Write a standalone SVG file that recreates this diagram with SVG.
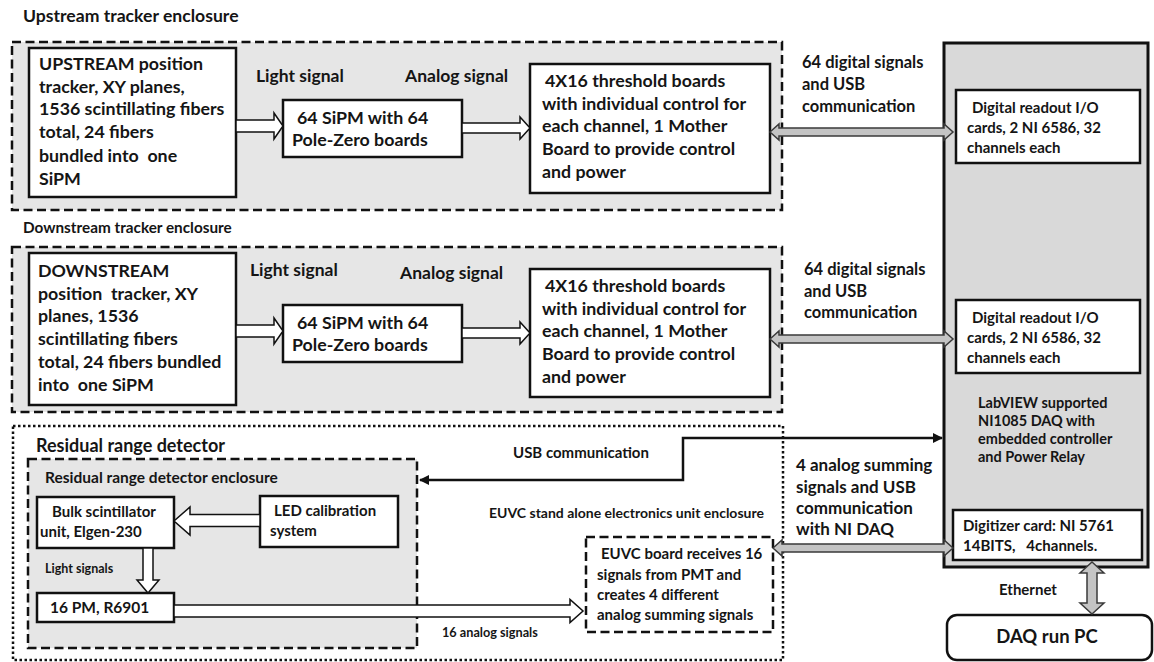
<svg xmlns="http://www.w3.org/2000/svg" width="1154" height="662" viewBox="0 0 1154 662">
  <style>
    text { font-family: Lato, "Liberation Sans", sans-serif; font-weight: bold; fill: #151515; white-space: pre; }
    .t18 { font-size: 17.8px; }
    .t17 { font-size: 17px; }
    .t16 { font-size: 16.5px; }
    .t15 { font-size: 15px; }
    .t14 { font-size: 14.5px; }
    .t13 { font-size: 14px; }
    .t12 { font-size: 12.7px; }
    .t11 { font-size: 12.5px; }
    .box { fill: #ffffff; stroke: #111; stroke-width: 2.5; }
    .encl { fill: #e6e6e6; stroke: #111; stroke-width: 2.5; stroke-dasharray: 9 4.5; }
    .dashw { fill: #ffffff; stroke: #111; stroke-width: 2.5; stroke-dasharray: 9 4.5; }
    .dotted { fill: none; stroke: #111; stroke-width: 2.5; stroke-dasharray: 2.5 2.5; }
    .daq { fill: #d9d9d9; stroke: #111; stroke-width: 3; }
    .hollow { fill: #ffffff; stroke: #111; stroke-width: 1.5; stroke-linejoin: miter; }
    .bus { fill: #c4c4c4; stroke: #3a3a3a; stroke-width: 1.5; }
    .wire { fill: none; stroke: #111; stroke-width: 2.5; }
  </style>
  <defs>
    <marker id="tip" viewBox="0 0 10 10" refX="9" refY="5" markerWidth="4" markerHeight="4" orient="auto-start-reverse" markerUnits="strokeWidth">
      <path d="M0,0 L10,5 L0,10 Z" fill="#111"/>
    </marker>
  </defs>

  <rect width="1154" height="662" fill="#ffffff"/>

  <!-- enclosure frames -->
  <g id="upstream-enclosure">
    <rect class="encl" x="12" y="42" width="770" height="168"/>
    <text x="23" y="22" style="font-size:17.6px">Upstream tracker enclosure</text>
  </g>
  <g id="downstream-enclosure">
    <rect class="encl" x="12" y="247" width="770" height="165"/>
    <text x="23" y="233" style="font-size:15.3px">Downstream tracker enclosure</text>
  </g>
  <g id="residual-range-detector">
    <rect class="dotted" x="13" y="426" width="770" height="234"/>
    <text x="36" y="452" style="font-size:18px">Residual range detector</text>
  </g>
  <g id="residual-enclosure">
    <rect class="encl" x="28" y="459" width="389" height="189"/>
    <text x="45" y="483" style="font-size:15.5px">Residual range detector enclosure</text>
  </g>
  <g id="euvc-enclosure-label">
    <text class="t13" x="489" y="518">EUVC stand alone electronics unit enclosure</text>
  </g>

  <!-- upstream chain -->
  <g id="upstream-tracker">
    <rect class="box" x="29" y="48" width="207" height="149"/>
    <text class="t18" x="39" y="70">UPSTREAM position</text>
    <text class="t18" x="39" y="93">tracker, XY planes,</text>
    <text class="t18" x="39" y="115">1536 scintillating fibers</text>
    <text class="t18" x="39" y="138">total, 24 fibers</text>
    <text class="t18" x="39" y="162">bundled into  one</text>
    <text class="t18" x="39" y="185">SiPM</text>
  </g>
  <g id="upstream-sipm">
    <rect class="box" x="283" y="100" width="179" height="57"/>
    <text class="t18" x="297" y="124">64 SiPM with 64</text>
    <text class="t18" x="292" y="146">Pole-Zero boards</text>
  </g>
  <g id="upstream-threshold">
    <rect class="box" x="530" y="64" width="240" height="129"/>
    <text class="t18" x="545" y="87">4X16 threshold boards</text>
    <text class="t18" x="542" y="110">with individual control for</text>
    <text class="t18" x="542" y="132">each channel, 1 Mother</text>
    <text class="t18" x="542" y="155">Board to provide control</text>
    <text class="t18" x="542" y="178">and power</text>
  </g>

  <!-- downstream chain -->
  <g id="downstream-tracker">
    <rect class="box" x="29" y="253" width="207" height="152"/>
    <text class="t18" x="38" y="277">DOWNSTREAM</text>
    <text class="t18" x="38" y="300">position  tracker, XY</text>
    <text class="t18" x="38" y="322">planes, 1536</text>
    <text class="t18" x="38" y="345">scintillating fibers</text>
    <text class="t18" x="38" y="368">total, 24 fibers bundled</text>
    <text class="t18" x="38" y="391">into  one SiPM</text>
  </g>
  <g id="downstream-sipm">
    <rect class="box" x="283" y="305" width="179" height="57"/>
    <text class="t18" x="297" y="329">64 SiPM with 64</text>
    <text class="t18" x="292" y="351">Pole-Zero boards</text>
  </g>
  <g id="downstream-threshold">
    <rect class="box" x="530" y="269" width="240" height="128"/>
    <text class="t18" x="545" y="292">4X16 threshold boards</text>
    <text class="t18" x="542" y="315">with individual control for</text>
    <text class="t18" x="542" y="337">each channel, 1 Mother</text>
    <text class="t18" x="542" y="360">Board to provide control</text>
    <text class="t18" x="542" y="383">and power</text>
  </g>

  <!-- DAQ crate -->
  <g id="daq-crate">
    <rect class="daq" x="944" y="43" width="204" height="524"/>
    <text class="t14" x="978" y="408">LabVIEW supported</text>
    <text class="t14" x="978" y="426">NI1085 DAQ with</text>
    <text class="t14" x="978" y="444">embedded controller</text>
    <text class="t14" x="978" y="462">and Power Relay</text>
  </g>
  <g id="readout-card-1">
    <rect class="box" x="956" y="90" width="184" height="73"/>
    <text class="t15" x="972" y="113">Digital readout I/O</text>
    <text class="t15" x="967" y="133">cards, 2 NI 6586, 32</text>
    <text class="t15" x="967" y="153">channels each</text>
  </g>
  <g id="readout-card-2">
    <rect class="box" x="956" y="300" width="184" height="73"/>
    <text class="t15" x="972" y="323">Digital readout I/O</text>
    <text class="t15" x="967" y="343">cards, 2 NI 6586, 32</text>
    <text class="t15" x="967" y="363">channels each</text>
  </g>
  <g id="digitizer-card">
    <rect class="box" x="953" y="510" width="189" height="50"/>
    <text class="t15" x="963" y="531">Digitizer card: NI 5761</text>
    <text class="t15" x="963" y="551">14BITS,   4channels.</text>
  </g>
  <g id="daq-run-pc">
    <rect class="box" x="947" y="615" width="205" height="45" rx="10"/>
    <text x="1047" y="643" text-anchor="middle" style="font-size:18.5px">DAQ run PC</text>
  </g>

  <!-- residual range detector parts -->
  <g id="bulk-scintillator">
    <rect class="box" x="37" y="497" width="137" height="51"/>
    <text class="t15" x="52" y="517">Bulk scintillator</text>
    <text class="t15" x="40" y="537">unit, Elgen-230</text>
  </g>
  <g id="led-calibration">
    <rect class="box" x="260" y="496" width="138" height="51"/>
    <text class="t15" x="274" y="516">LED calibration</text>
    <text class="t15" x="270" y="536">system</text>
  </g>
  <g id="pm-r6901">
    <rect class="box" x="37" y="593" width="137" height="29"/>
    <text x="50" y="613" style="font-size:15.5px">16 PM, R6901</text>
  </g>
  <g id="euvc-board">
    <rect class="dashw" x="586" y="537" width="187" height="95"/>
    <text class="t15" x="601" y="559">EUVC board receives 16</text>
    <text class="t15" x="597" y="580">signals from PMT and</text>
    <text class="t15" x="597" y="600">creates 4 different</text>
    <text class="t15" x="597" y="620">analog summing signals</text>
  </g>

  <!-- connectors -->
  <g id="connectors">
    <!-- light / analog signal paths -->
    <path class="hollow" d="M236,120 L274,120 L274,113 L283,126 L274,139 L274,132 L236,132 Z"/>
    <path class="hollow" d="M462,123 L520,123 L520,117 L530,128 L520,139 L520,133 L462,133 Z"/>
    <path class="hollow" d="M236,325 L274,325 L274,318 L283,331 L274,344 L274,337 L236,337 Z"/>
    <path class="hollow" d="M462,328 L520,328 L520,322 L530,333 L520,344 L520,338 L462,338 Z"/>
    <path class="hollow" d="M260,514.5 L190,514.5 L190,507 L174,521 L190,535 L190,526.5 L260,526.5 Z"/>
    <path class="hollow" d="M143,548 L143,580 L137,580 L148,593 L159,580 L153,580 L153,548 Z"/>
    <path class="hollow" d="M174,605 L570,605 L570,599.5 L583,611 L570,622.5 L570,617 L174,617 Z"/>

    <!-- digital buses -->
    <path class="bus" d="M770,132 L779,124 L779,128 L944,128 L944,124 L953,132 L944,140 L944,136 L779,136 L779,140 Z"/>
    <path class="bus" d="M770,339 L779,331 L779,335 L944,335 L944,331 L953,339 L944,347 L944,343 L779,343 L779,347 Z"/>
    <path class="bus" d="M773,548 L782,540 L782,544 L944,544 L944,540 L953,548 L944,556 L944,552 L782,552 L782,556 Z"/>
    <path class="bus" d="M1092,562 L1104,573 L1097,573 L1097,603 L1104,603 L1092,614 L1080,603 L1087,603 L1087,573 L1080,573 Z"/>

    <!-- USB link -->
    <path class="wire" d="M420,480 L683,480 L683,438 L942,438" marker-start="url(#tip)" marker-end="url(#tip)"/>

    <!-- connector labels -->
    <text x="256" y="82" style="font-size:17.5px">Light signal</text>
    <text x="405" y="82" style="font-size:17.5px">Analog signal</text>
    <text x="250" y="276" style="font-size:17.5px">Light signal</text>
    <text x="400" y="279" style="font-size:17.5px">Analog signal</text>
    <text class="t16" x="802" y="68">64 digital signals</text>
    <text class="t16" x="802" y="90">and USB</text>
    <text class="t16" x="802" y="112">communication</text>
    <text class="t16" x="804" y="275">64 digital signals</text>
    <text class="t16" x="804" y="297">and USB</text>
    <text class="t16" x="804" y="318">communication</text>
    <text class="t17" x="796" y="471">4 analog summing</text>
    <text class="t17" x="796" y="493">signals and USB</text>
    <text class="t17" x="796" y="514">communication</text>
    <text class="t17" x="796" y="535">with NI DAQ</text>
    <text class="t15" x="513" y="458">USB communication</text>
    <text class="t11" x="45" y="573">Light signals</text>
    <text class="t12" x="442" y="637">16 analog signals</text>
    <text class="t15" x="999" y="595">Ethernet</text>
  </g>
</svg>
